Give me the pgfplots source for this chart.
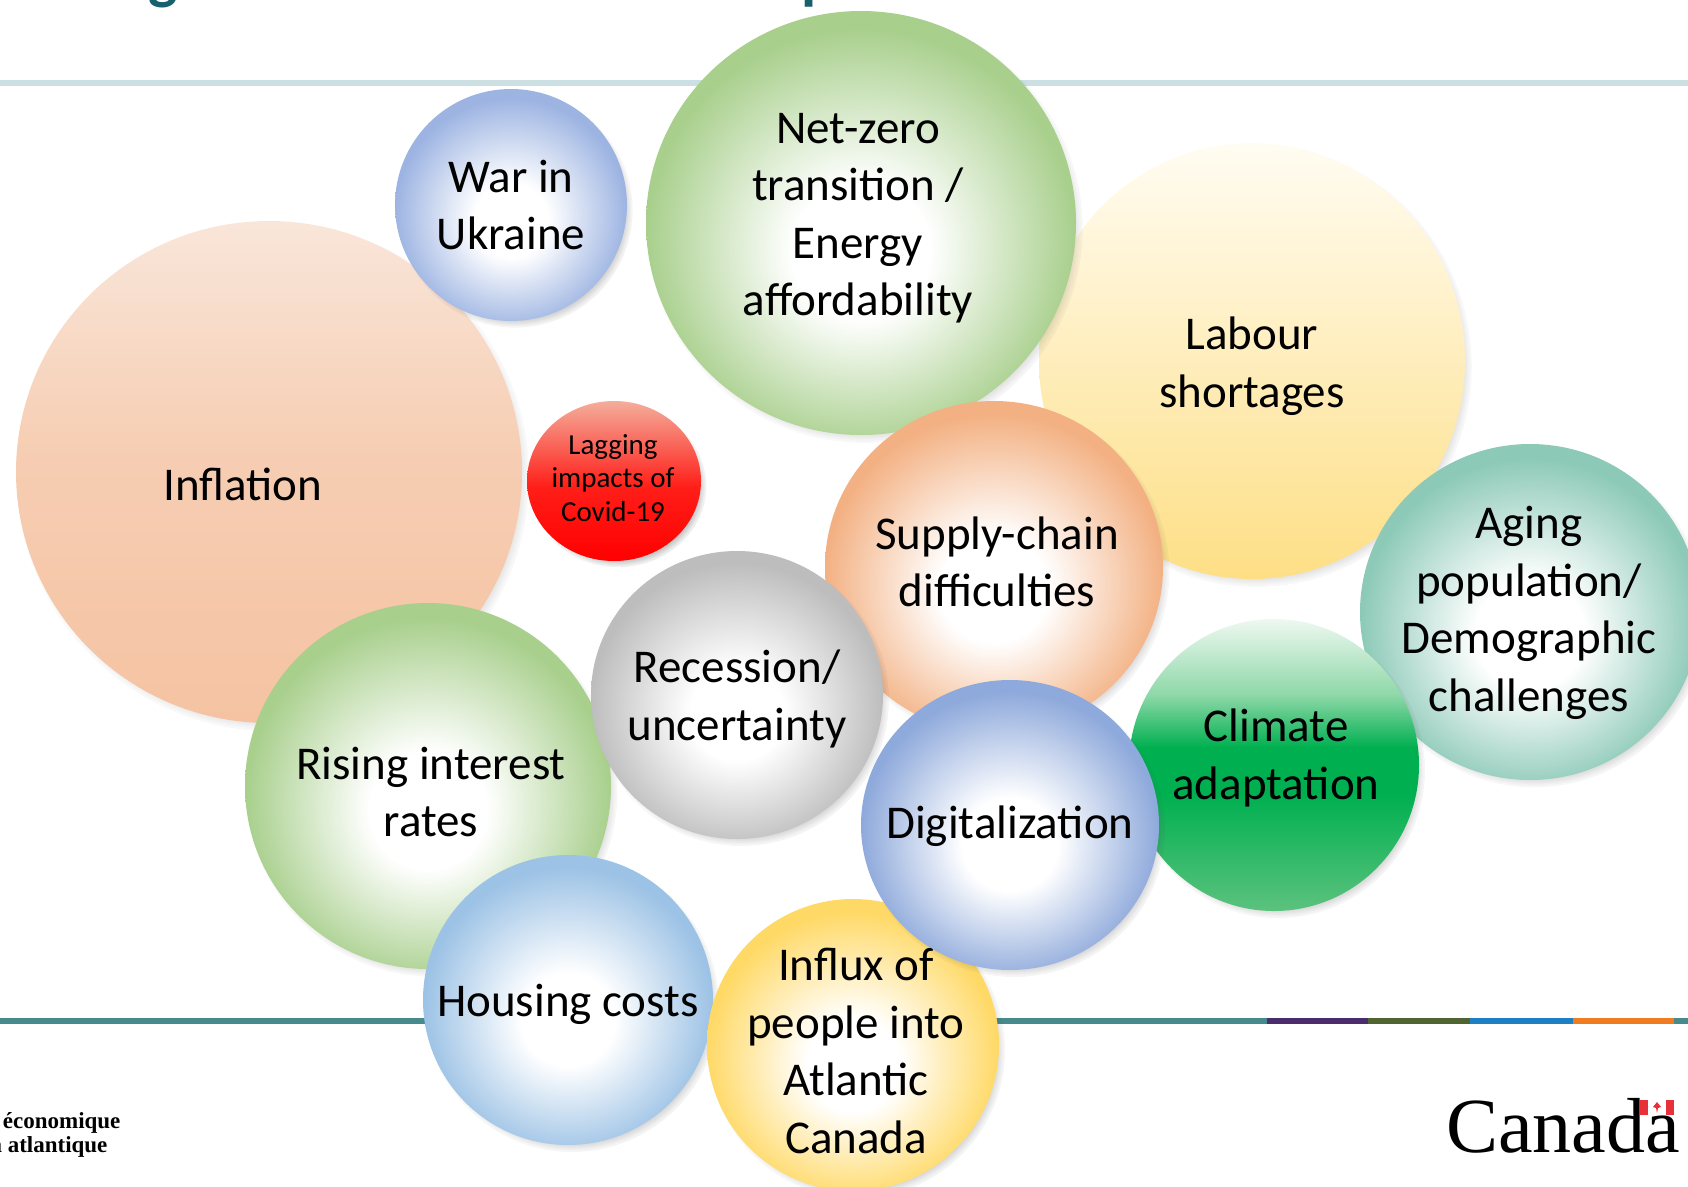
\documentclass[border=0pt]{standalone}
\usepackage{pgfplots}
\pgfplotsset{compat=1.18}
\usepackage{fontspec}
\setmainfont{Carlito}
\newfontfamily\logofont{Liberation Serif}
\usetikzlibrary{shapes.geometric,shadows,fadings}

\definecolor{titleC}{HTML}{17606E}
\definecolor{topLine}{HTML}{CCDFE2}
\definecolor{botTeal}{HTML}{468A8C}
\definecolor{segPurple}{HTML}{4B2D6E}
\definecolor{segOlive}{HTML}{4F6430}
\definecolor{segBlue}{HTML}{1F7FC3}
\definecolor{segOrange}{HTML}{F07C22}
\definecolor{flagRed}{HTML}{E8303A}

\definecolor{infT}{HTML}{F9E6DA}
\definecolor{infB}{HTML}{F5C3A2}
\definecolor{labT}{HTML}{FFFCF2}
\definecolor{labB}{HTML}{FEDF86}
\definecolor{lagT}{HTML}{F4AE9C}
\definecolor{lagM}{HTML}{FF1E18}
\definecolor{lagB}{HTML}{FF0000}
\definecolor{cliT}{HTML}{EEF8F1}
\definecolor{cliU}{HTML}{8ED8A8}
\definecolor{cliM}{HTML}{00B050}
\definecolor{cliB}{HTML}{5CC27E}

\definecolor{warC}{HTML}{9DB4E2}
\definecolor{netC}{HTML}{A8CF8C}
\definecolor{supC}{HTML}{F3B183}
\definecolor{ageC}{HTML}{8CC9B7}
\definecolor{recC}{HTML}{BDBDBD}
\definecolor{risC}{HTML}{A8CF8C}
\definecolor{digC}{HTML}{8EA9DB}
\definecolor{houC}{HTML}{9CC2E5}
\definecolor{infxC}{HTML}{FFD966}

\pgfdeclareradialshading{shWar}{\pgfpoint{0bp}{-4bp}}{color(0bp)=(white); color(8bp)=(white); color(25bp)=(warC); color(50bp)=(warC)}
\pgfdeclareradialshading{shNet}{\pgfpoint{0bp}{-4bp}}{color(0bp)=(white); color(8bp)=(white); color(25bp)=(netC); color(50bp)=(netC)}
\pgfdeclareradialshading{shSup}{\pgfpoint{0bp}{-4bp}}{color(0bp)=(white); color(8bp)=(white); color(25bp)=(supC); color(50bp)=(supC)}
\pgfdeclareradialshading{shAge}{\pgfpoint{0bp}{-4bp}}{color(0bp)=(white); color(8bp)=(white); color(25bp)=(ageC); color(50bp)=(ageC)}
\pgfdeclareradialshading{shRec}{\pgfpoint{0bp}{-4bp}}{color(0bp)=(white); color(8bp)=(white); color(25bp)=(recC); color(50bp)=(recC)}
\pgfdeclareradialshading{shRis}{\pgfpoint{0bp}{-4bp}}{color(0bp)=(white); color(8bp)=(white); color(25bp)=(risC); color(50bp)=(risC)}
\pgfdeclareradialshading{shDig}{\pgfpoint{0bp}{-4bp}}{color(0bp)=(white); color(8bp)=(white); color(25bp)=(digC); color(50bp)=(digC)}
\pgfdeclareradialshading{shHou}{\pgfpoint{0bp}{-4bp}}{color(0bp)=(white); color(8bp)=(white); color(25bp)=(houC); color(50bp)=(houC)}
\pgfdeclareradialshading{shInf}{\pgfpoint{0bp}{-4bp}}{color(0bp)=(white); color(8bp)=(white); color(25bp)=(infxC); color(50bp)=(infxC)}
% vertical shadings: listed from bottom (25bp) to top (75bp)
\pgfdeclareverticalshading{shCli}{100bp}{color(0bp)=(cliB); color(25bp)=(cliB); color(45bp)=(cliM); color(53bp)=(cliM); color(62bp)=(cliU); color(75bp)=(cliT); color(100bp)=(cliT)}
\pgfdeclareverticalshading{shLag}{100bp}{color(0bp)=(lagB); color(25bp)=(lagB); color(48bp)=(lagM); color(75bp)=(lagT); color(100bp)=(lagT)}
\pgfdeclareverticalshading{shInfl}{100bp}{color(0bp)=(infB); color(25bp)=(infB); color(52bp)=(infB!70!infT); color(75bp)=(infT); color(100bp)=(infT)}

\tikzset{bubshadow/.style={general shadow={shadow scale=1.012, shadow xshift=4pt, shadow yshift=-5pt, opacity=0.35, fill=black!70, path fading={circle with fuzzy edge 10 percent}}}}

\newcommand{\bigf}{\fontsize{47}{57.5}\selectfont}
\newcommand{\smallf}{\fontsize{29}{33.5}\selectfont}

% #1 x, #2 y, #3 rx, #4 ry, #5 fill style, #6 text x, #7 text y, #8 font, #9 text
\newcommand{\bubble}[9]{%
  \addplot[mark=none, nodes near coords={},
    nodes near coords style={ellipse, anchor=center, inner sep=0pt, draw=none,
      minimum width={2*#3pt}, minimum height={2*#4pt}, #5, bubshadow}]
    coordinates {(#1,#2)};
  \addplot[mark=none, nodes near coords={#9},
    nodes near coords style={anchor=center, align=center, inner sep=0pt, font=#8, text=black}]
    coordinates {(#6,#7)};
}

\begin{document}
\begin{tikzpicture}
\path[use as bounding box] (0pt,0pt) rectangle (1688pt,1186pt);
\clip (0pt,0pt) rectangle (1688pt,1186pt);
\begin{axis}[at={(0pt,0pt)}, anchor=south west,
  width=1688pt, height=1186pt, scale only axis,
  xmin=0, xmax=1688, ymin=0, ymax=1186, y dir=reverse,
  hide axis, clip=false]

% decorative rules
\addplot[topLine, line width=6pt, mark=none] coordinates {(0,83) (1688,83)};
\addplot[botTeal, line width=6pt, mark=none] coordinates {(0,1021) (1267,1021)};
\addplot[segPurple, line width=6pt, mark=none] coordinates {(1267,1021) (1368,1021)};
\addplot[segOlive, line width=6pt, mark=none] coordinates {(1368,1021) (1470,1021)};
\addplot[segBlue, line width=6pt, mark=none] coordinates {(1470,1021) (1573,1021)};
\addplot[segOrange, line width=6pt, mark=none] coordinates {(1573,1021) (1674,1021)};
\addplot[botTeal, line width=6pt, mark=none] coordinates {(1674,1021) (1688,1021)};

% title fragments (cut off at the top)
\node[anchor=base, text=titleC, font=\fontsize{62}{62}\selectfont\bfseries] at (axis cs:163,-3) {g};
\node[anchor=base, text=titleC, font=\fontsize{62}{62}\selectfont\bfseries] at (axis cs:818,-3) {p};

% logos
\node[anchor=base east, font=\logofont\bfseries\fontsize{23}{23}\selectfont] at (axis cs:124,1128) {Agence de promotion économique};
\node[anchor=base east, font=\logofont\bfseries\fontsize{23}{23}\selectfont] at (axis cs:111,1152) {du Canada atlantique};
\node[anchor=base west, inner sep=0pt, font=\logofont\fontsize{78}{78}\selectfont] at (axis cs:1446,1152) {Canada};
\addplot[fill=flagRed, draw=none, mark=none] coordinates {(1640,1100) (1648,1100) (1648,1115) (1640,1115)} --cycle;
\addplot[fill=flagRed, draw=none, mark=none] coordinates {(1666,1100) (1674,1100) (1674,1115) (1666,1115)} --cycle;
\addplot[fill=flagRed, draw=none, mark=none] coordinates {(1657,1102) (1661,1107) (1658,1108) (1657,1113) (1656,1108) (1653,1107)} --cycle;

% bubbles
\bubble{269}{472}{253}{251}{shading=shInfl}{243}{484}{\bigf}{Inflation}
\bubble{511}{205}{116}{116}{shading=shWar}{511}{205}{\bigf}{War in\\Ukraine}
\bubble{1252}{361}{213}{218}{top color=labT, bottom color=labB}{1252}{366}{\bigf}{Labour\\shortages}
\bubble{861}{223}{215}{212}{shading=shNet}{858}{218}{\bigf}{Net-zero\\transition /\\Energy\\affordability}
\bubble{994}{567}{169}{166}{shading=shSup}{997}{562}{\bigf}{Supply-chain\\difficulties}
\bubble{614}{481}{87}{80}{shading=shLag}{613}{478}{\smallf}{Lagging\\impacts of\\Covid-19}
\bubble{1530}{612}{170}{168}{shading=shAge}{1529}{613}{\bigf}{Aging\\population/\\Demographic\\challenges}
\bubble{1274}{765}{145}{146}{shading=shCli}{1276}{758}{\bigf}{Climate\\adaptation}
\bubble{428}{786}{183}{183}{shading=shRis}{431}{792}{\bigf}{Rising interest\\rates}
\bubble{737}{695}{146}{144}{shading=shRec}{737}{699}{\bigf}{Recession/\\uncertainty}
\bubble{568}{1000}{145}{145}{shading=shHou}{568}{1004}{\bigf}{Housing costs}
\bubble{853}{1045}{146}{146}{shading=shInf}{856}{1051}{\bigf}{Influx of\\people into\\Atlantic\\Canada}
\bubble{1010}{825}{149}{145}{shading=shDig}{1010}{826}{\bigf}{Digitalization}

\end{axis}
\end{tikzpicture}
\end{document}
